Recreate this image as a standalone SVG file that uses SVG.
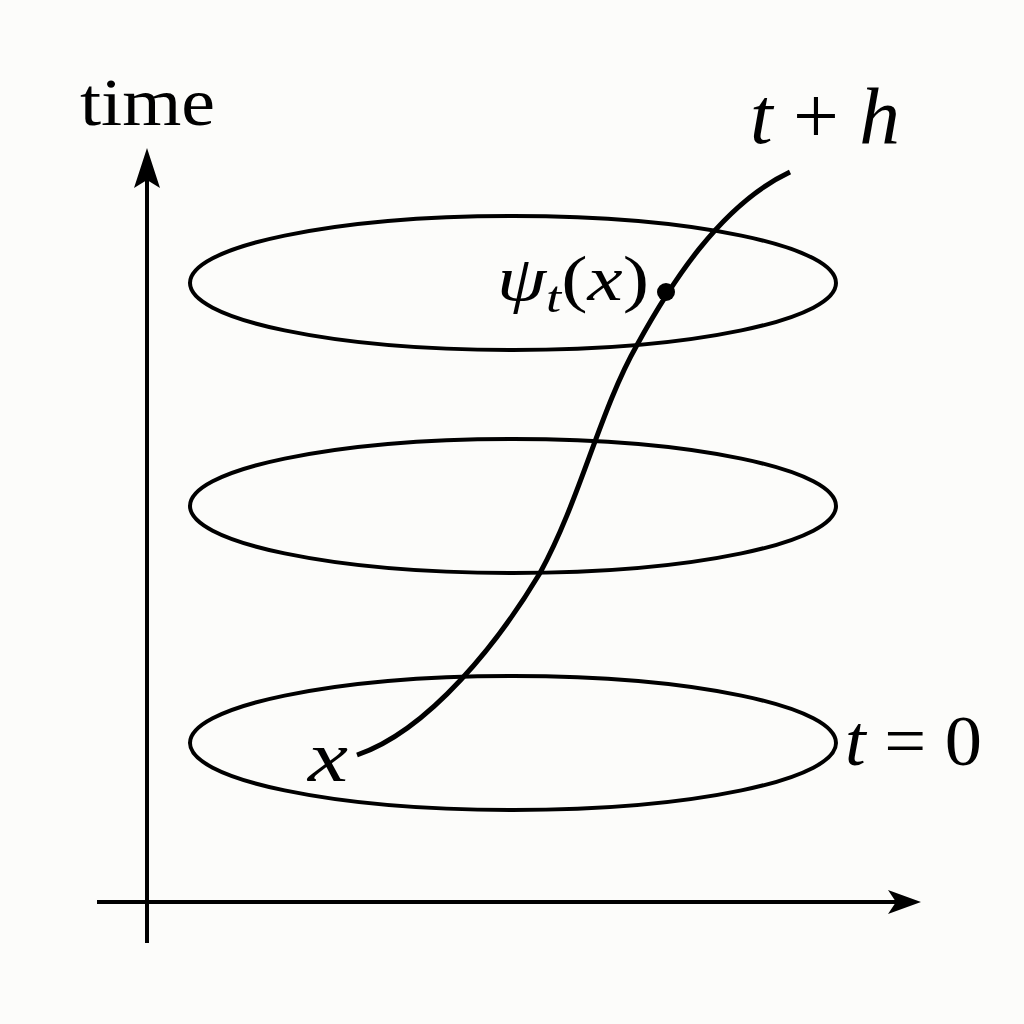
<svg xmlns="http://www.w3.org/2000/svg" width="1024" height="1024" viewBox="0 0 1024 1024">
<style>
.bg{fill:#fcfcfa}
.ax{stroke:#000;stroke-width:4;fill:none}
.ell{stroke:#000;stroke-width:4;fill:none}
.cur{stroke:#000;stroke-width:5;fill:none;stroke-linecap:butt}
.t{font-family:"Liberation Serif","DejaVu Serif",serif;fill:#000}
.i{font-style:italic}
</style>
<rect class="bg" x="0" y="0" width="1024" height="1024"/>
<g id="axes">
<line class="ax" x1="147" y1="943" x2="147" y2="160"/>
<path d="M147,148 L160,188 L147,180 L134,188 Z" fill="#000"/>
<line class="ax" x1="97" y1="902" x2="910" y2="902"/>
<path d="M921,902 L888,914 L896,902 L888,890 Z" fill="#000"/>
</g>
<g id="slice-top"><ellipse class="ell" cx="513" cy="283" rx="323" ry="67"/></g>
<g id="slice-mid"><ellipse class="ell" cx="513" cy="506" rx="323" ry="67"/></g>
<g id="slice-bot"><ellipse class="ell" cx="513" cy="743" rx="323" ry="67"/></g>
<g id="connectors">
<path class="cur" d="M357,755 C430,730 500,640 540,573 C580,500 600,410 637,345 C670,285 720,205 790,172"/>
</g>
<g id="point"><circle cx="666" cy="292" r="9" fill="#000"/></g>
<g id="labels">
<text class="t" x="80" y="125" font-size="68" textLength="135" lengthAdjust="spacingAndGlyphs">time</text>
<text class="t" x="750" y="143" font-size="80" textLength="150" lengthAdjust="spacingAndGlyphs"><tspan class="i">t</tspan> + <tspan class="i">h</tspan></text>
<text class="t" x="497" y="300" font-size="64" textLength="152" lengthAdjust="spacingAndGlyphs"><tspan class="i">ψ</tspan><tspan class="i" font-size="44" dy="12">t</tspan><tspan dy="-12">(</tspan><tspan class="i">x</tspan>)</text>
<text class="t i" x="308" y="781" font-size="72" textLength="40" lengthAdjust="spacingAndGlyphs">x</text>
<text class="t" x="845" y="765" font-size="72" textLength="137" lengthAdjust="spacingAndGlyphs"><tspan class="i">t</tspan> = 0</text>
</g>
</svg>
